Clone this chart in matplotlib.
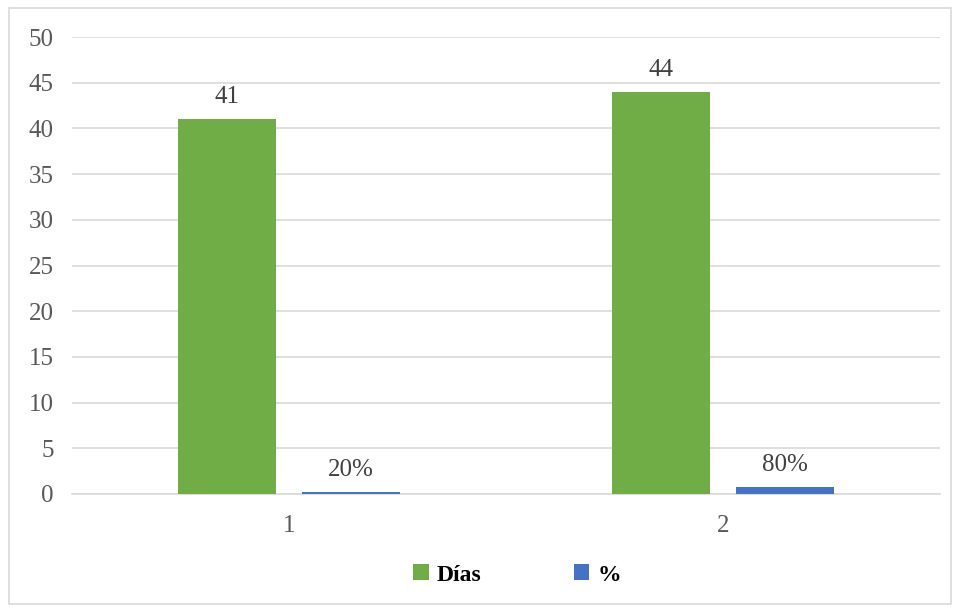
import matplotlib
matplotlib.use("Agg")
import matplotlib.pyplot as plt
from matplotlib.patches import Rectangle
import numpy as np

categories = ["1", "2"]
dias = [41, 44]
pct = [0.2, 0.8]
pct_labels = ["20%", "80%"]
series_names = ["Días", "%"]

plt.rcParams['font.family'] = ['Liberation Serif', 'DejaVu Serif']

W, H = 957, 612
fig = plt.figure(figsize=(W/100, H/100), dpi=100)
fig.patches.append(Rectangle((9/W, 1-604/H), 942/W, 596/H, transform=fig.transFigure,
                             fill=False, edgecolor="#D9D9D9", linewidth=1.2))

ax = fig.add_axes([72/W, 1-494/H, 868/W, 457/H])
x = np.arange(len(categories))
bw = 0.226
off = 0.143
green = "#70AD47"
blue = "#4472C4"
b1 = ax.bar(x - off, dias, bw, color=green, label=series_names[0], zorder=3)
b2 = ax.bar(x + off, pct, bw, color=blue, label=series_names[1], zorder=3)
ax.bar_label(b1, labels=[str(v) for v in dias], padding=8, fontsize=18, color="#404040")
ax.bar_label(b2, labels=pct_labels, padding=8, fontsize=18, color="#404040")

ax.set_xlim(-0.5, 1.5)
ax.set_ylim(0, 50)
ax.set_yticks(np.arange(0, 51, 5))
ax.set_xticks(x)
ax.set_xticklabels(categories)
ax.grid(axis="y", color="#D9D9D9", linewidth=1.2, zorder=0)
for s in ["top", "right", "left"]:
    ax.spines[s].set_visible(False)
ax.spines["bottom"].set_color("#D9D9D9")
ax.spines["bottom"].set_linewidth(1.2)
ax.tick_params(axis="both", length=0, labelsize=18, labelcolor="#595959")
ax.tick_params(axis="y", pad=13)
ax.tick_params(axis="x", pad=15)

fig.legend(handles=[b1, b2], loc="center", bbox_to_anchor=(517/W, 1-575/H), ncol=2,
           frameon=False, handlelength=0.65, handleheight=0.65, columnspacing=3.9,
           handletextpad=0.35, prop={"weight": "bold", "size": 17})

fig.savefig("out.png", dpi=100)
